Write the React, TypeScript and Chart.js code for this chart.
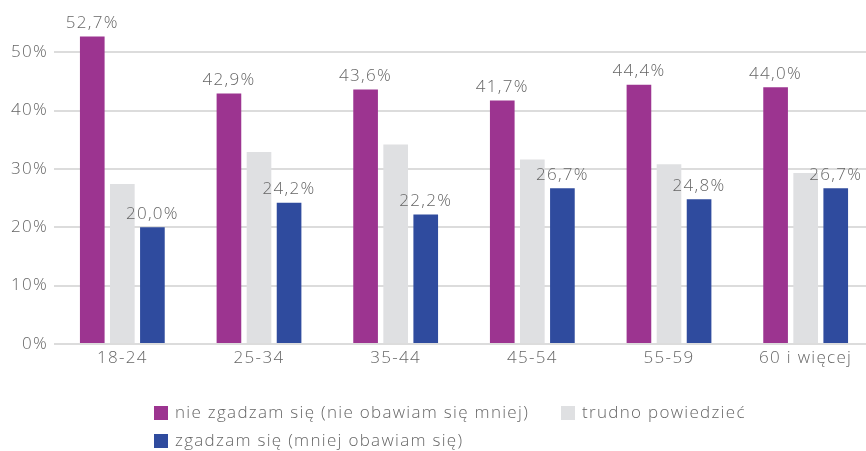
import React, { useEffect, useRef } from "react";
import { Chart, registerables } from "chart.js";

Chart.register(...registerables);

const categories = ["18-24", "25-34", "35-44", "45-54", "55-59", "60 i więcej"];
const disagree = [52.7, 42.9, 43.6, 41.7, 44.4, 44.0];
const hardToSay = [27.4, 32.9, 34.2, 31.6, 30.8, 29.3];
const agree = [20.0, 24.2, 22.2, 26.7, 24.8, 26.7];
const yTicks = [0, 10, 20, 30, 40, 50];
const seriesNames = [
  "nie zgadzam się (nie obawiam się mniej)",
  "trudno powiedzieć",
  "zgadzam się (mniej obawiam się)",
];
const colors = ["#9c3490", "#dfe0e2", "#2f4b9e"];
const showLabels = [true, false, true];

const FONT = "'Open Sans', sans-serif";
const TEXT = "#666666";
const SPACING = "1.3px";

const fmt = (v: number) => v.toFixed(1).replace(".", ",") + "%";

const spacingPlugin = {
  id: "spacing",
  beforeUpdate(chart: any) {
    chart.ctx.letterSpacing = SPACING;
  },
  beforeDraw(chart: any) {
    chart.ctx.letterSpacing = SPACING;
  },
};

const labelPlugin = {
  id: "valueLabels",
  afterDatasetsDraw(chart: any) {
    const ctx = chart.ctx;
    ctx.save();
    ctx.letterSpacing = SPACING;
    ctx.font = `300 17px ${FONT}`;
    ctx.fillStyle = TEXT;
    ctx.textAlign = "center";
    ctx.textBaseline = "bottom";
    chart.data.datasets.forEach((ds: any, i: number) => {
      if (!showLabels[i]) return;
      const meta = chart.getDatasetMeta(i);
      meta.data.forEach((bar: any, j: number) => {
        ctx.fillText(fmt(ds.data[j]), bar.x, bar.y - 5);
      });
    });
    ctx.restore();
  },
};

const legendPlugin = {
  id: "customLegend",
  afterDraw(chart: any) {
    const ctx = chart.ctx;
    ctx.save();
    ctx.letterSpacing = SPACING;
    ctx.font = `300 17px ${FONT}`;
    ctx.textBaseline = "middle";
    ctx.textAlign = "left";
    const rows = [
      [
        { i: 0, x: 154 },
        { i: 1, x: 561 },
      ],
      [{ i: 2, x: 154 }],
    ];
    const ys = [413, 441];
    rows.forEach((row, r) => {
      row.forEach((it) => {
        ctx.fillStyle = colors[it.i];
        ctx.fillRect(it.x, ys[r] - 7, 14, 14);
        ctx.fillStyle = TEXT;
        ctx.fillText(seriesNames[it.i], it.x + 21, ys[r]);
      });
    });
    ctx.restore();
  },
};

export default function App() {
  const ref = useRef<HTMLCanvasElement | null>(null);
  useEffect(() => {
    document.body.style.margin = "0";
    const chart = new Chart(ref.current as HTMLCanvasElement, {
      type: "bar",
      data: {
        labels: categories,
        datasets: [disagree, hardToSay, agree].map((d, i) => ({
          label: seriesNames[i],
          data: d,
          backgroundColor: colors[i],
          borderWidth: 0,
          categoryPercentage: 0.66,
          barPercentage: 0.82,
        })),
      },
      options: {
        animation: false,
        responsive: false,
        maintainAspectRatio: false,
        layout: { padding: { top: 23, right: 0, bottom: 0, left: 0 } },
        plugins: {
          legend: { display: false },
          tooltip: { enabled: false },
        },
        scales: {
          x: {
            grid: { display: false, drawTicks: false },
            border: { display: false },
            ticks: {
              color: TEXT,
              font: { family: FONT, size: 17, weight: "300" },
              padding: 4,
            },
            afterFit: (s: any) => {
              s.height = 107;
            },
          },
          y: {
            min: 0,
            max: 55,
            afterBuildTicks: (s: any) => {
              s.ticks = yTicks.map((v) => ({ value: v }));
            },
            grid: { color: "#dcdcdc", lineWidth: 2, drawTicks: false },
            border: { display: false },
            ticks: {
              color: TEXT,
              font: { family: FONT, size: 17, weight: "300" },
              padding: 6,
              callback: (v: any) => v + "%",
            },
            afterFit: (s: any) => {
              s.width = 54;
            },
          },
        },
      },
      plugins: [spacingPlugin, labelPlugin, legendPlugin],
    });
    return () => chart.destroy();
  }, []);
  return (
    <div style={{ width: 866, height: 451, overflow: "hidden" }}>
      <canvas ref={ref} width={874} height={451} style={{ display: "block" }} />
    </div>
  );
}
